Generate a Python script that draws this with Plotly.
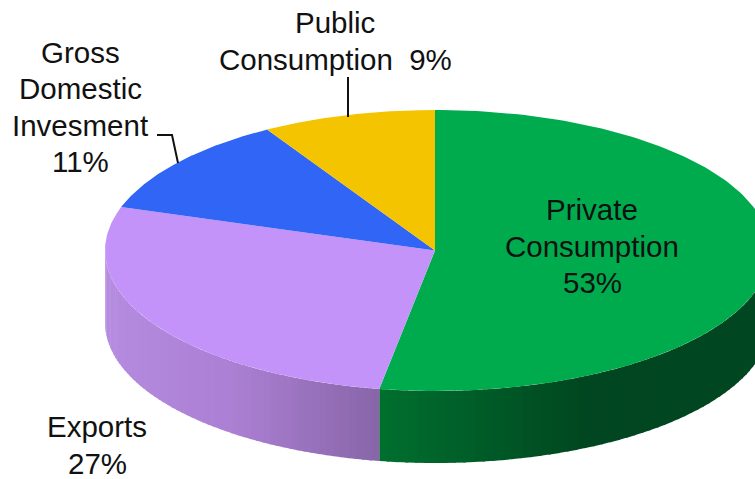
import numpy as np
import plotly.graph_objects as go

# --- data ---
categories = ["Private Consumption", "Exports", "Gross Domestic Invesment", "Public Consumption"]
shares = [52.7, 27.3, 11.5, 8.5]  # as drawn; the printed labels are rounded
top_colors = ["#00AB4E", "#C493F9", "#3165F5", "#F5C400"]
label_lines = [
    ["Private", "Consumption", "53%"],
    ["Exports", "27%"],
    ["Gross", "Domestic", "Invesment", "11%"],
    ["Public", "Consumption  9%"],
]
label_pos = [(592, 246), (97, 445), (80, 107), (335, 41)]
LINE_GAP = 36.5

# --- geometry of the tilted disc, in picture pixels ---
CX, CY, RX_LEFT, RX_RIGHT, RY, DEPTH = 435, 250.5, 330, 335, 140.5, 72


def rim(theta_deg):
    t = np.radians(np.asarray(theta_deg, dtype=float))
    s = np.sin(t)
    return CX + np.where(s >= 0, RX_RIGHT, RX_LEFT) * s, CY - RY * np.cos(t)


def mix(x, xs, cols):
    r = [int(np.interp(x, xs, [c[i] for c in cols])) for i in range(3)]
    return f"rgb({r[0]},{r[1]},{r[2]})"


wall_style = {
    "Private Consumption": ([380, 590, 770], [(0, 112, 47), (0, 70, 32), (0, 70, 32)]),
    "Exports": ([105, 230, 380], [(181, 140, 224), (172, 128, 212), (136, 102, 168)]),
}

fig = go.Figure()
edges = np.concatenate([[0], np.cumsum(shares)]) * 3.6

# side wall: only the front half of the disc shows
for name, a0, a1 in zip(categories, edges[:-1], edges[1:]):
    lo, hi = max(a0, 90), min(a1, 270)
    if lo >= hi or name not in wall_style:
        continue
    xs, cols = wall_style[name]
    steps = np.linspace(lo, hi, 61)
    for s0, s1 in zip(steps[:-1], steps[1:]):
        th = np.linspace(s0, min(s1 + 0.4, hi), 5)
        x, y = rim(th)
        px = np.concatenate([x, x[::-1]])
        py = np.concatenate([y, (y + DEPTH)[::-1]])
        fig.add_trace(go.Scatter(
            x=px, y=py, mode="lines", fill="toself",
            fillcolor=mix(x.mean(), xs, cols), line=dict(width=0),
            hoverinfo="skip", showlegend=False,
        ))

# top face
for name, a0, a1, col in zip(categories, edges[:-1], edges[1:], top_colors):
    th = np.linspace(a0, a1, 160)
    x, y = rim(th)
    fig.add_trace(go.Scatter(
        x=np.concatenate([[CX], x, [CX]]), y=np.concatenate([[CY], y, [CY]]),
        mode="lines", fill="toself", fillcolor=col, line=dict(width=0),
        name=name, hoverinfo="name", showlegend=False,
    ))

# leader lines
leaders = [
    ([348, 348], [77, 117]),
    ([157, 172, 178], [135, 135, 163]),
]
for lx, ly in leaders:
    fig.add_trace(go.Scatter(x=lx, y=ly, mode="lines", line=dict(color="#111111", width=2),
                             hoverinfo="skip", showlegend=False))

for lines, (tx, ty) in zip(label_lines, label_pos):
    n = len(lines)
    for i, txt in enumerate(lines):
        fig.add_annotation(x=tx, y=ty + (i - (n - 1) / 2) * LINE_GAP, text=txt, showarrow=False,
                           xanchor="center", yanchor="middle", align="center",
                           font=dict(family="Liberation Sans, Arial", size=29.5, color="#111111"))

fig.update_layout(
    width=755, height=479, margin=dict(l=0, r=0, t=0, b=0), autosize=False,
    paper_bgcolor="white", plot_bgcolor="white",
    xaxis=dict(range=[0, 755], visible=False, fixedrange=True),
    yaxis=dict(range=[479, 0], visible=False, fixedrange=True),
)
fig.write_html("out.html", config={"displayModeBar": False},
               post_script="document.body.style.margin='0';document.documentElement.style.overflow='hidden';")
